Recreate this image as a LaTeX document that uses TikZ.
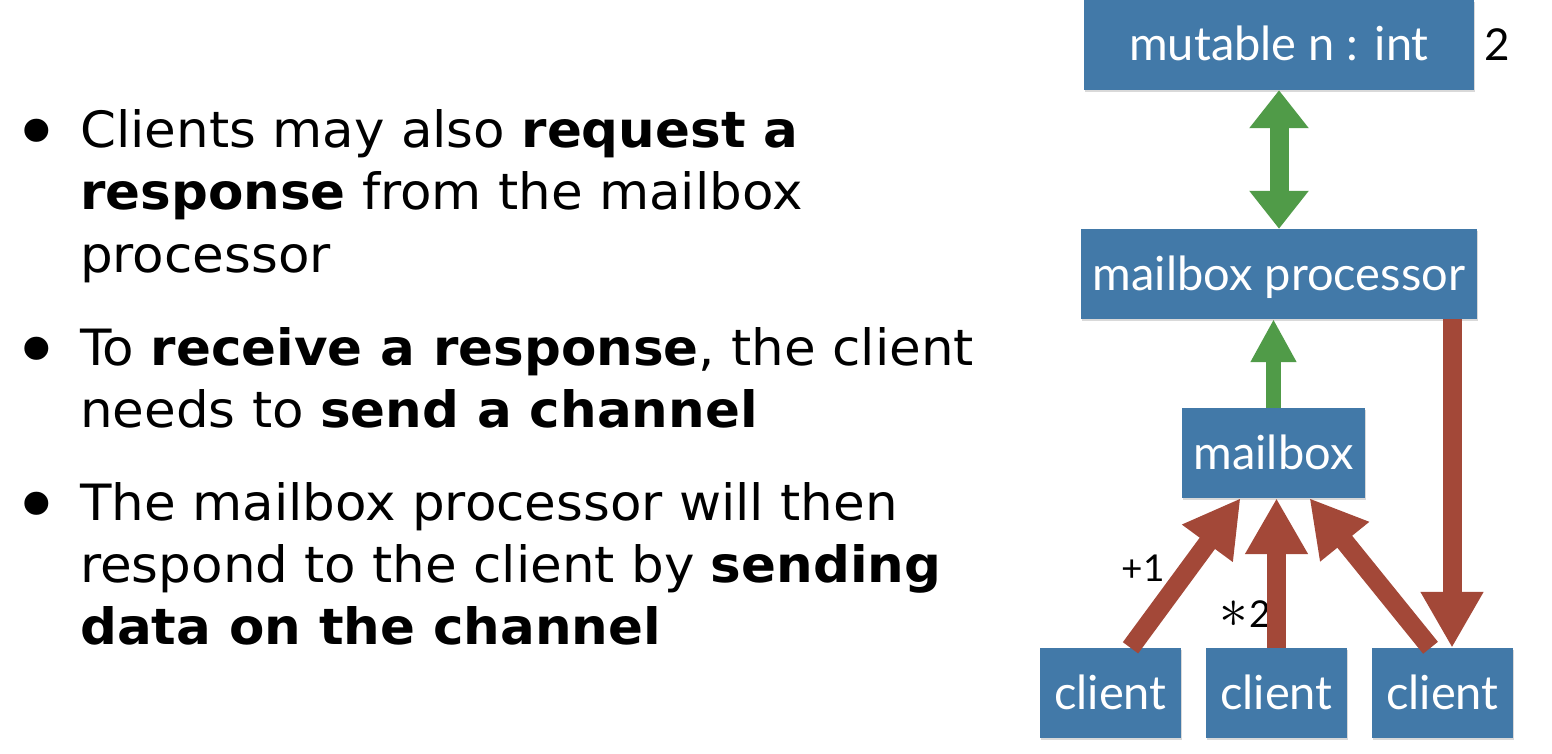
\documentclass[tikz,border=0pt]{standalone}
\usepackage{fontspec}
\setmainfont{DejaVu Sans}[FakeStretch=1.03]
\newfontfamily\boxfont{Lato}
\usetikzlibrary{arrows.meta,shadows}

\definecolor{boxblue}{RGB}{66,121,168}
\definecolor{arrgreen}{RGB}{80,155,72}
\definecolor{arrred}{RGB}{163,72,56}

\begin{document}
\begin{tikzpicture}[x=1pt, y=-1pt,
    box/.style={fill=boxblue, text=white, minimum height=90pt, inner sep=0pt,
      text height=32pt, text depth=0pt,
      font=\boxfont\fontsize{47}{50}\selectfont,
      drop shadow={shadow xshift=1pt, shadow yshift=-2pt, opacity=0.3}},
    lbl/.style={inner sep=0pt, font=\boxfont\fontsize{37}{40}\selectfont},
    txt/.style={anchor=base west, inner sep=0pt, font=\fontsize{50}{62}\selectfont},
    green2/.style={draw=arrgreen, line width=19pt,
      {Triangle[width=57pt,length=38pt]}-{Triangle[width=57pt,length=38pt]}},
    green1/.style={draw=arrgreen, line width=15pt, -{Triangle[width=43pt,length=43pt]}},
    red1/.style={draw=arrred, line width=19pt, -{Triangle[width=59pt,length=56pt]}}]

  \useasboundingbox (0,0) rectangle (1552,754);

  % bullet list on the left
  \foreach \t/\y [count=\i] in {
      {Clients may also \textbf{request a}}/148,
      {\textbf{response} from the mailbox}/210,
      {processor}/272,
      {To \textbf{receive a response}, the client}/365,
      {needs to \textbf{send a channel}}/427,
      {The mailbox processor will then}/520,
      {respond to the client by \textbf{sending}}/582,
      {\textbf{data on the channel}}/644} {
    \node[txt] (l\i) at (80,\y) {\t};
  }
  \foreach \y [count=\i] in {161, 378, 533} {
    \node[txt, anchor=base, font=\fontsize{80}{80}\selectfont] (b\i) at (37,\y) {•};
  }

  % boxes
  \node[box, minimum width=390pt] (mut) at (1279,45) {mutable n : int};
  \node[box, minimum width=396pt] (proc) at (1279,274) {mailbox processor};
  \node[box, minimum width=183pt] (mbox) at (1273.5,453) {mailbox};
  \foreach \x [count=\i] in {1110.5, 1276.5, 1442.5} {
    \node[box, minimum width=141pt] (c\i) at (\x,693) {client};
  }

  \node[lbl, font=\boxfont\fontsize{44}{48}\selectfont] (val) at (1497,45) {2};
  \node[lbl] (add) at (1143,568) {+1};
  \node[lbl] (mul) at (1245,614) {\scalebox{2.3}{$\ast$}\kern1pt 2};

  % arrows
  \draw[green2] (mut) -- (proc);
  \draw[green1] (mbox.north) -- (mbox.north |- proc.south);
  \draw[red1] ([xshift=20pt]c1.north) -- ([xshift=-33pt]mbox.south);
  \draw[red1] (c2.north) -- (c2.north |- mbox.south);
  \draw[red1] ([xshift=-12pt]c3.north) -- ([xshift=36pt]mbox.south);
  \draw[red1] ([xshift=173pt]proc.south) -- ([xshift=9.5pt]c3.north);
\end{tikzpicture}
\end{document}
